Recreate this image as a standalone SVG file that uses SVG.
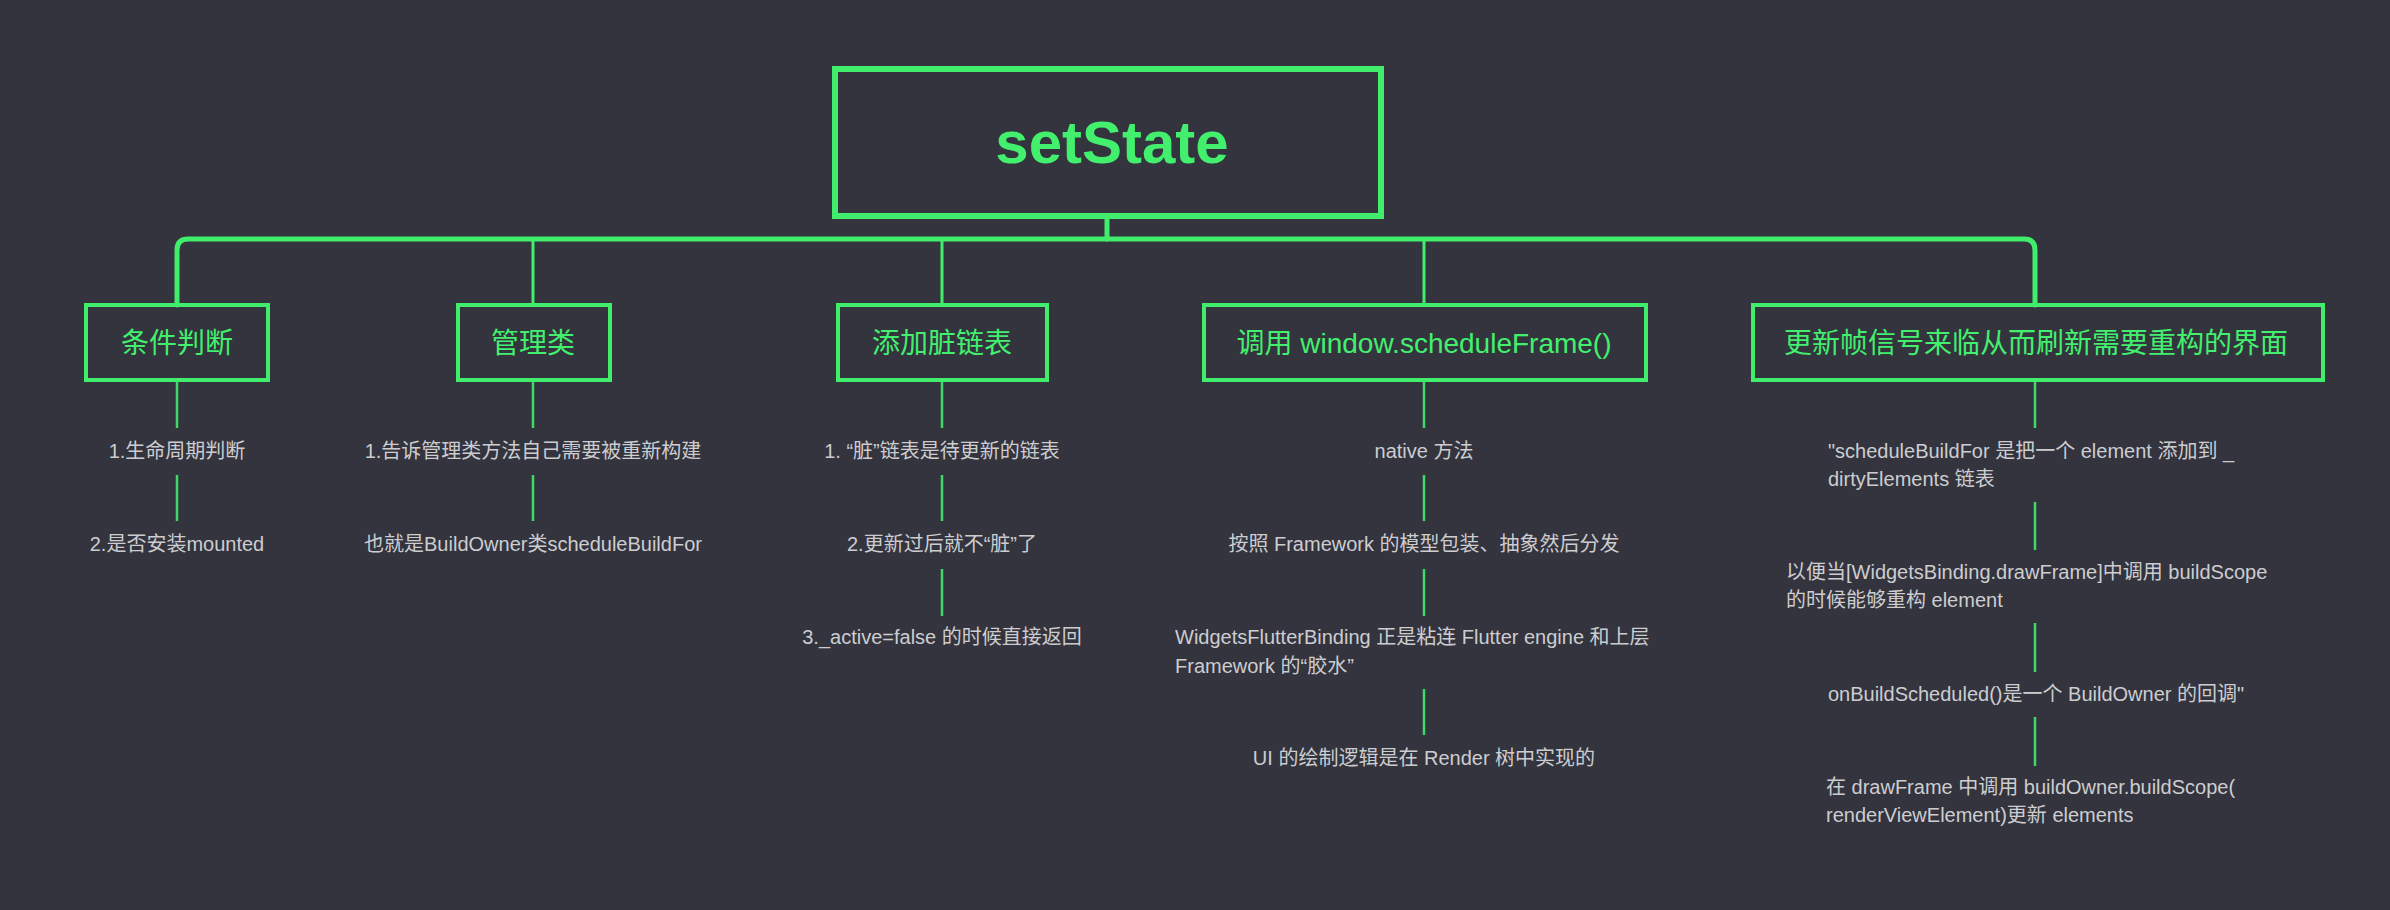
<svg xmlns="http://www.w3.org/2000/svg" width="2390" height="910" viewBox="0 0 2390 910">
  <style>
    .bg { fill: #33343e; }
    .root { fill: none; stroke: #40ee6c; stroke-width: 6; }
    .box { fill: none; stroke: #40ee6c; stroke-width: 4; }
    .bus { fill: none; stroke: #40ee6c; stroke-width: 5; stroke-linecap: round; }
    .branch { fill: none; stroke: #40ee6c; stroke-width: 3; }
    .sub { fill: none; stroke: #3fd968; stroke-width: 2.5; }
    .title { font-family: "Liberation Sans", "Noto Sans CJK SC", sans-serif; font-weight: bold; font-size: 60px; fill: #42f06e; text-anchor: middle; }
    .label { font-family: "Liberation Sans", "Noto Sans CJK SC", sans-serif; font-size: 28px; fill: #42f06e; text-anchor: middle; }
    .note { font-family: "Liberation Sans", "Noto Sans CJK SC", sans-serif; font-size: 20px; fill: #cdcdd0; text-anchor: middle; }
    .noteL { font-family: "Liberation Sans", "Noto Sans CJK SC", sans-serif; font-size: 20px; fill: #cdcdd0; text-anchor: start; }
  </style>
  <rect class="bg" x="0" y="0" width="2390" height="910"/>

  <g id="connectors">
    <line class="bus" x1="1107" y1="216" x2="1107" y2="239"/>
    <path class="bus" d="M177,305 V250 Q177,239 188,239 H2024 Q2035,239 2035,250 V305"/>
    <line class="branch" x1="533" y1="239" x2="533" y2="305"/>
    <line class="branch" x1="942" y1="239" x2="942" y2="305"/>
    <line class="branch" x1="1424" y1="239" x2="1424" y2="305"/>
    <!-- col1 -->
    <line class="sub" x1="177" y1="380" x2="177" y2="428"/>
    <line class="sub" x1="177" y1="475" x2="177" y2="521"/>
    <!-- col2 -->
    <line class="sub" x1="533" y1="380" x2="533" y2="428"/>
    <line class="sub" x1="533" y1="475" x2="533" y2="521"/>
    <!-- col3 -->
    <line class="sub" x1="942" y1="380" x2="942" y2="428"/>
    <line class="sub" x1="942" y1="475" x2="942" y2="521"/>
    <line class="sub" x1="942" y1="569" x2="942" y2="616"/>
    <!-- col4 -->
    <line class="sub" x1="1424" y1="380" x2="1424" y2="428"/>
    <line class="sub" x1="1424" y1="475" x2="1424" y2="521"/>
    <line class="sub" x1="1424" y1="569" x2="1424" y2="616"/>
    <line class="sub" x1="1424" y1="689" x2="1424" y2="735"/>
    <!-- col5 -->
    <line class="sub" x1="2035" y1="380" x2="2035" y2="428"/>
    <line class="sub" x1="2035" y1="502" x2="2035" y2="550"/>
    <line class="sub" x1="2035" y1="623" x2="2035" y2="672"/>
    <line class="sub" x1="2035" y1="717" x2="2035" y2="766"/>
  </g>

  <g id="root">
    <rect class="root" x="835" y="69" width="546" height="147"/>
    <text class="title" x="1112" y="163">setState</text>
  </g>

  <g id="n1">
    <rect class="box" x="86" y="305" width="182" height="75"/>
    <text class="label" x="177" y="353">条件判断</text>
  </g>
  <g id="n2">
    <rect class="box" x="458" y="305" width="152" height="75"/>
    <text class="label" x="533" y="353">管理类</text>
  </g>
  <g id="n3">
    <rect class="box" x="838" y="305" width="209" height="75"/>
    <text class="label" x="942" y="353">添加脏链表</text>
  </g>
  <g id="n4">
    <rect class="box" x="1204" y="305" width="442" height="75"/>
    <text class="label" x="1424" y="353">调用 window.scheduleFrame()</text>
  </g>
  <g id="n5">
    <rect class="box" x="1753" y="305" width="570" height="75"/>
    <text class="label" x="2036" y="353">更新帧信号来临从而刷新需要重构的界面</text>
  </g>

  <g id="n1-items">
    <text class="note" x="177" y="458">1.生命周期判断</text>
    <text class="note" x="177" y="551">2.是否安装mounted</text>
  </g>
  <g id="n2-items">
    <text class="note" x="533" y="458">1.告诉管理类方法自己需要被重新构建</text>
    <text class="note" x="533" y="551">也就是BuildOwner类scheduleBuildFor</text>
  </g>
  <g id="n3-items">
    <text class="note" x="942" y="458">1. “脏”链表是待更新的链表</text>
    <text class="note" x="942" y="551">2.更新过后就不“脏”了</text>
    <text class="note" x="942" y="644">3._active=false 的时候直接返回</text>
  </g>
  <g id="n4-items">
    <text class="note" x="1424" y="458">native 方法</text>
    <text class="note" x="1424" y="551">按照 Framework 的模型包装、抽象然后分发</text>
    <text class="noteL" x="1175" y="644">WidgetsFlutterBinding 正是粘连 Flutter engine 和上层</text>
    <text class="noteL" x="1175" y="673">Framework 的“胶水”</text>
    <text class="note" x="1424" y="765">UI 的绘制逻辑是在 Render 树中实现的</text>
  </g>
  <g id="n5-items">
    <text class="noteL" x="1828" y="458">"scheduleBuildFor 是把一个 element 添加到 _</text>
    <text class="noteL" x="1828" y="486">dirtyElements 链表</text>
    <text class="noteL" x="1786" y="579">以便当[WidgetsBinding.drawFrame]中调用 buildScope</text>
    <text class="noteL" x="1786" y="607">的时候能够重构 element</text>
    <text class="note" x="2036" y="701">onBuildScheduled()是一个 BuildOwner 的回调"</text>
    <text class="noteL" x="1826" y="794">在 drawFrame 中调用 buildOwner.buildScope(</text>
    <text class="noteL" x="1826" y="822">renderViewElement)更新 elements</text>
  </g>
</svg>
